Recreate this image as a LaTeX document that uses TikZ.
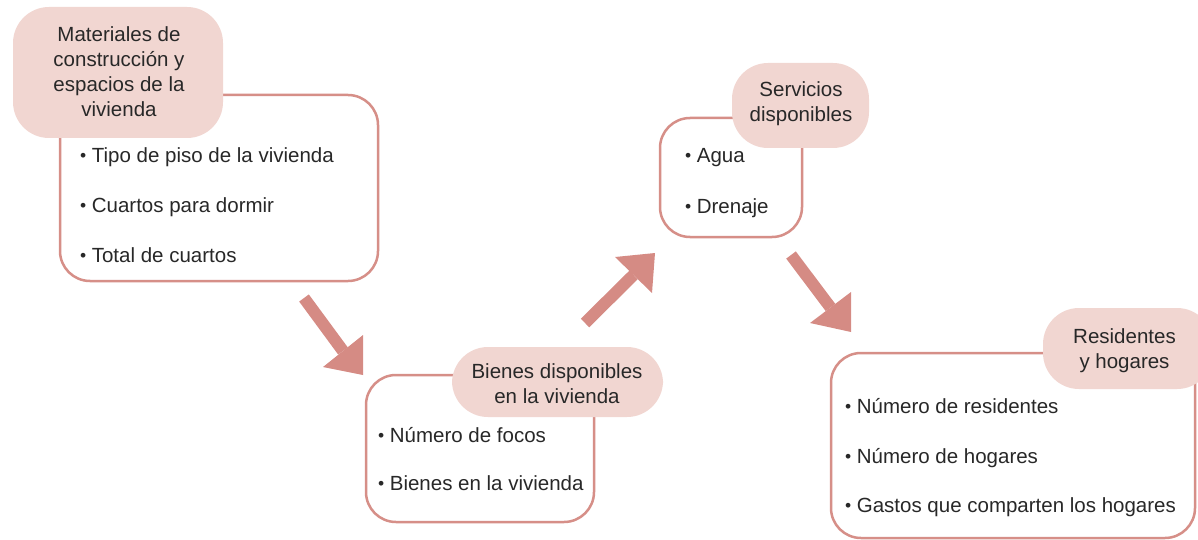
\documentclass[tikz,border=0pt]{standalone}
\usepackage{fontspec}
\setmainfont{Liberation Sans}
\definecolor{rosec}{RGB}{214,143,136}
\definecolor{pinkc}{RGB}{241,214,209}
\definecolor{arrowc}{RGB}{213,139,132}
\definecolor{textc}{RGB}{40,40,40}
\newcommand\mybul{\raisebox{1pt}{\fontsize{17.5}{17.5}\selectfont•}\hspace{5.5pt}}
\begin{document}
\begin{tikzpicture}[x=1pt,y=-1pt,
  itembox/.style={draw=rosec, line width=2.5pt, fill=white, rounded corners=30pt, rectangle, inner sep=0pt},
  labelbox/.style={fill=pinkc, rounded corners=36pt, rectangle, inner sep=0pt},
  labeltext/.style={text=textc, font=\fontsize{20.5}{25}\selectfont, align=center, anchor=base, inner sep=0pt},
  itemtext/.style={text=textc, font=\fontsize{20.5}{25}\selectfont, anchor=base west, inner sep=0pt},
  bigarrow/.style={draw=arrowc, line width=12pt},
  arrowhead/.style={fill=arrowc}]
\useasboundingbox (0,0) rectangle (1198,540);
% boxes
\node[itembox, minimum width=318pt, minimum height=186pt] (b1) at (219,188) {};
\node[itembox, minimum width=228pt, minimum height=147pt] (b2) at (480,448.5) {};
\node[itembox, minimum width=142pt, minimum height=119pt] (b3) at (731,177.5) {};
\node[itembox, minimum width=364pt, minimum height=185pt] (b4) at (1013,445.5) {};
% labels
\node[labelbox, minimum width=210pt, minimum height=131pt] (l1) at (118,72.5) {};
\node[labelbox, minimum width=211pt, minimum height=70pt] (l2) at (557.5,382) {};
\node[labelbox, minimum width=137pt, minimum height=85pt] (l3) at (800.5,105.5) {};
\node[labelbox, minimum width=170pt, minimum height=81pt] (l4) at (1128,348.5) {};
% label texts (base anchor = baseline of last line)
\node[labeltext] (t1) at (119,117) {Materiales de\\construcción y\\espacios de la\\vivienda};
\node[labeltext] (t2) at (557,403) {Bienes disponibles\\en la vivienda};
\node[labeltext] (t3) at (801,122) {Servicios\\disponibles};
\node[labeltext] (t4) at (1124.5,368) {Residentes\\y hogares};
% items
\node[itemtext] (i11) at (80,163) {\mybul Tipo de piso de la vivienda};
\node[itemtext] (i12) at (80,212) {\mybul Cuartos para dormir};
\node[itemtext] (i13) at (80,262) {\mybul Total de cuartos};
\node[itemtext] (i21) at (378,442) {\mybul Número de focos};
\node[itemtext] (i22) at (378,490) {\mybul Bienes en la vivienda};
\node[itemtext] (i31) at (685,163) {\mybul Agua};
\node[itemtext] (i32) at (685,213) {\mybul Drenaje};
\node[itemtext] (i41) at (845,413) {\mybul Número de residentes};
\node[itemtext] (i42) at (845,463) {\mybul Número de hogares};
\node[itemtext] (i43) at (845,512) {\mybul Gastos que comparten los hogares};
% arrows
\coordinate (a1s) at (304,298);
\coordinate (a1b) at (343,351);
\coordinate (a1l) at (323,367);
\coordinate (a1r) at (363,335);
\coordinate (a1t) at (363,375);
\draw[bigarrow] (a1s) -- (a1b);
\fill[arrowhead] (a1l) -- (a1r) -- (a1t) -- cycle;
\coordinate (a2s) at (585,323);
\coordinate (a2b) at (633.5,275);
\coordinate (a2l) at (615,257);
\coordinate (a2r) at (652,293);
\coordinate (a2t) at (655,253);
\draw[bigarrow] (a2s) -- (a2b);
\fill[arrowhead] (a2l) -- (a2t) -- (a2r) -- cycle;
\coordinate (a3s) at (791,255);
\coordinate (a3b) at (830.5,307.5);
\coordinate (a3l) at (810,323);
\coordinate (a3r) at (851,292);
\coordinate (a3t) at (851,332);
\draw[bigarrow] (a3s) -- (a3b);
\fill[arrowhead] (a3l) -- (a3r) -- (a3t) -- cycle;
\end{tikzpicture}
\end{document}
